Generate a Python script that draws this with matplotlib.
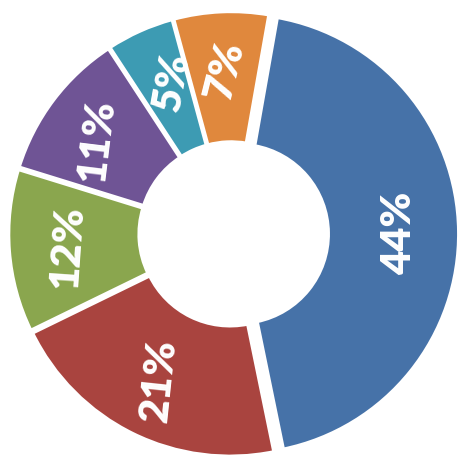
import numpy as np
import matplotlib
matplotlib.use("Agg")
import matplotlib.pyplot as plt

# share of each segment, clockwise from the top
shares = [44, 21, 12, 11, 5, 7]
share_labels = [f"{s}%" for s in shares]
colors = ["#4672A8", "#A9443F", "#8AA64E", "#6F5495", "#3D9BB3", "#E0883D"]

explode = [0.035, 0.012, 0.012, 0.012, 0.012, 0.012]
label_rot = [90, 84, 86, 83, 80, 76]
label_nudge = [-0.7, 0, 0, 2, -3, -0.5]  # degrees, small angular shifts

fig = plt.figure(figsize=(4.59, 4.59), dpi=100)
ax = fig.add_axes([0, 0, 1, 1])

wedges, _ = ax.pie(
    shares,
    startangle=80,
    counterclock=False,
    colors=colors,
    explode=explode,
    radius=1,
    wedgeprops=dict(width=0.595, edgecolor="white", linewidth=2.8),
)

for w, txt, rot, nudge in zip(wedges, share_labels, label_rot, label_nudge):
    mid = np.deg2rad((w.theta1 + w.theta2) / 2 + nudge)
    cx, cy = w.center
    ax.text(
        cx + 0.73 * np.cos(mid), cy + 0.73 * np.sin(mid), txt,
        rotation=rot, rotation_mode="anchor",
        ha="center", va="center", color="white",
        fontsize=30, fontweight="heavy", family=["Lato", "DejaVu Sans"],
    )

ax.set_aspect("equal")
ax.set_xlim(-1.050, 1.035)
ax.set_ylim(-1.018, 1.059)
ax.axis("off")

fig.savefig("out.png", dpi=100, facecolor="white")
